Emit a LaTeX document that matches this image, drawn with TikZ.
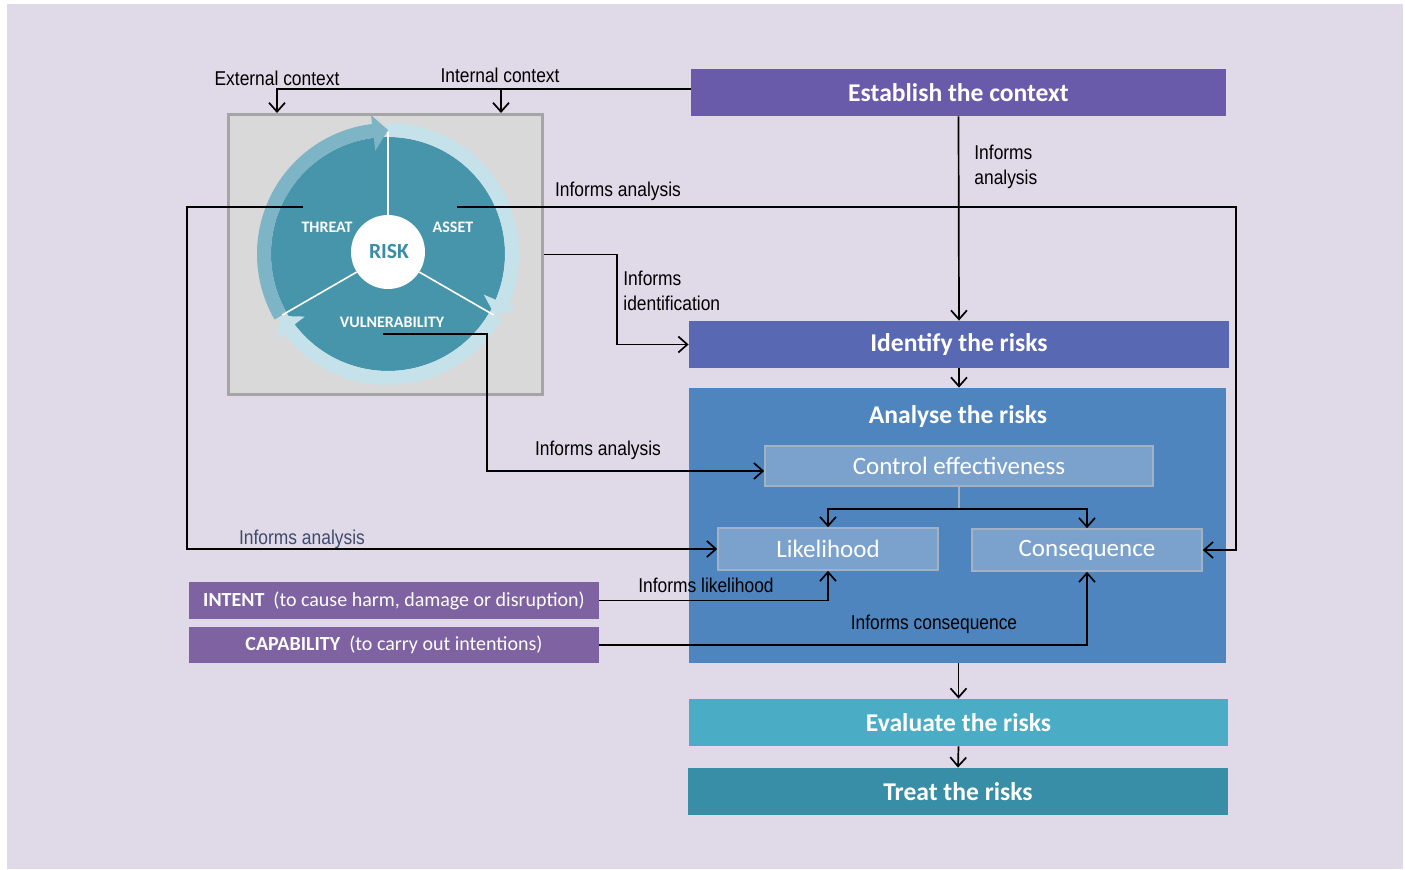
\documentclass[tikz,border=0pt]{standalone}
\usepackage{fontspec}
\setmainfont{Carlito}
\newfontfamily\narrowfont[FakeStretch=0.87]{Liberation Sans}
\usetikzlibrary{arrows.meta,calc}
\definecolor{bgc}{HTML}{DFD9E8}
\definecolor{estc}{HTML}{695BAA}
\definecolor{idc}{HTML}{5868B2}
\definecolor{anc}{HTML}{4F85BE}
\definecolor{subc}{HTML}{7BA2CD}
\definecolor{subd}{HTML}{A3B2C2}
\definecolor{evc}{HTML}{4BACC6}
\definecolor{trc}{HTML}{378EA6}
\definecolor{purc}{HTML}{7F62A1}
\definecolor{diskc}{HTML}{4695AA}
\definecolor{banda}{HTML}{7DB5C6}
\definecolor{bandb}{HTML}{C5E1E9}
\definecolor{riskc}{HTML}{3B8CA4}
\definecolor{greyc}{HTML}{D9D9D9}
\definecolor{greyd}{HTML}{A5A5A5}
\definecolor{navyc}{HTML}{3F4A6C}
\newcommand\riskband[3]{%
  \fill[#3] (#1:58.5pt) arc[start angle=#1, end angle={#2+7}, radius=58.5pt]
    -- ({#2+7}:52pt) -- (#2:62pt) -- ({#2+7}:70pt) -- ({#2+7}:65.5pt)
    arc[start angle={#2+7}, end angle=#1, radius=65.5pt] -- cycle;}
\begin{document}
\begin{tikzpicture}[x=0.5pt,y=0.5pt,
  box/.style={inner sep=0pt, text=white, font=\bfseries\fontsize{12.8}{15}\selectfont},
  subbox/.style={fill=subc, draw=subd, line width=0.8pt, inner sep=0pt, text=white,
    font=\fontsize{12.5}{15}\selectfont},
  purbox/.style={fill=purc, inner sep=0pt, text=white, font=\fontsize{10}{12}\selectfont,
    minimum width=205pt},
  lbl/.style={inner sep=0pt, font=\narrowfont\fontsize{10}{12.5}\selectfont},
  circlbl/.style={inner sep=0pt, text=white, font=\bfseries\fontsize{8}{10}\selectfont},
  conn/.style={line width=0.85pt},
  arr/.style={conn, -{Straight Barb[length=4.5pt,width=8pt]}}]
\useasboundingbox (0,0) rectangle (1405,-870);
\fill[bgc] (7,-4) rectangle (1403,-869);

% grey box with risk wheel
\node[fill=greyc, draw=greyd, line width=1.5pt, minimum width=157pt, minimum height=140pt,
  inner sep=0pt] (grey) at (385.5,-254.5) {};
\begin{scope}[shift={(388,-254)}]
  \fill[diskc] (0,0) circle[radius=58.5pt];
  \riskband{-30}{-150}{bandb}
  \riskband{90}{-30}{bandb}
  \riskband{210}{90}{banda}
  \draw[white, line width=0.8pt] (90:18pt) -- (90:61pt);
  \draw[white, line width=0.8pt] (-30:18pt) -- (-30:61pt);
  \draw[white, line width=0.8pt] (210:18pt) -- (210:61pt);
  \fill[white] (0,2) circle[radius=18.5pt];
\end{scope}
\node[circlbl] (threat) at (327,-227) {THREAT};
\node[circlbl] (asset) at (453,-227) {ASSET};
\node[circlbl] (vuln) at (392,-322) {VULNERABILITY};
\node[inner sep=0pt, text=riskc, font=\bfseries\fontsize{10.8}{13}\selectfont] (risk) at (389,-252) {RISK};

% process boxes
\node[box, fill=estc, minimum width=267.5pt, minimum height=23.5pt] (est) at (958.5,-92.5) {Establish the context};
\node[box, fill=idc, minimum width=270pt, minimum height=23.5pt] (id) at (959,-344.5) {Identify the risks};
\node[fill=anc, inner sep=0pt, minimum width=268.5pt, minimum height=137.5pt] (an) at (957.5,-525.5) {};
\node[box] (antitle) at (958,-417) {Analyse the risks};
\node[subbox, minimum width=194pt, minimum height=20pt] (ctrl) at (959,-466) {Control effectiveness};
\node[subbox, minimum width=110pt, minimum height=21pt] (lik) at (828,-549) {Likelihood};
\node[subbox, minimum width=115pt, minimum height=21pt] (cons) at (1087,-550) {Consequence};
\node[box, fill=evc, minimum width=269.5pt, minimum height=23.5pt] (ev) at (958.5,-722.5) {Evaluate the risks};
\node[box, fill=trc, minimum width=270pt, minimum height=23.5pt] (tr) at (958,-791.5) {Treat the risks};
\node[purbox, minimum height=18.5pt] (intent) at (394,-600.5) {\textbf{INTENT}\ \ (to cause harm, damage or disruption)};
\node[purbox, minimum height=18pt] (cap) at (394,-645) {\textbf{CAPABILITY}\ \ (to carry out intentions)};

% context arrows
\coordinate (ext) at (277,-113);
\coordinate (int) at (501,-113);
\coordinate (jint) at (501,-89);
\draw[arr] ([yshift=1.75pt]est.west) -| (ext);
\draw[arr] (jint) -- (int);
\node[lbl] (extl) at (277,-78) {External context};
\node[lbl] (intl) at (500,-75) {Internal context};

% main flow
\draw[arr] (est.south) -- (id.north);
\node[lbl, anchor=west, align=left] (ial) at (974,-166.5) {Informs\\analysis};
\draw[arr] (id.south) -- (id.south |- an.north);
\draw[arr] (ev.north |- an.south) -- (ev.north);
\draw[arr] (ev.south) -- (tr.north);

% grey box -> identify
\draw[arr] (grey.east) -- ++(36.5pt,0) |- (id.west);
\node[lbl, anchor=west, align=left] (iid) at (623,-290.5) {Informs\\identification};

% asset -> consequence
\coordinate (aS) at (457,-207);
\draw[arr] (aS) -| ([xshift=16.5pt]cons.east) -- (cons.east);
\node[lbl] (ia1) at (618,-191) {Informs analysis};

% threat -> likelihood
\coordinate (tS) at (303,-207);
\draw[arr] (tS) -| ([xshift=-265pt]lik.west) -- (lik.west);
\node[lbl, text=navyc] (ia2) at (302,-539) {Informs analysis};

% vulnerability -> control
\coordinate (vS) at (383,-334);
\draw[arr] (vS) -- ++(52pt,0) |- ([yshift=-2.5pt]ctrl.west);
\node[lbl] (ia3) at (598,-450) {Informs analysis};

% control -> likelihood / consequence
\draw[subd, line width=0.8pt] (ctrl.south) -- ++(0,-11pt) coordinate (sp);
\draw[arr] (sp) -| (lik.north);
\draw[arr] (sp) -| (cons.north);

% intent / capability
\draw[arr] (intent.east) -| (lik.south);
\node[lbl] (il) at (706,-585) {Informs likelihood};
\draw[arr] (cap.east) -| (cons.south);
\node[lbl] (ic) at (934,-624) {Informs consequence};
\end{tikzpicture}
\end{document}
